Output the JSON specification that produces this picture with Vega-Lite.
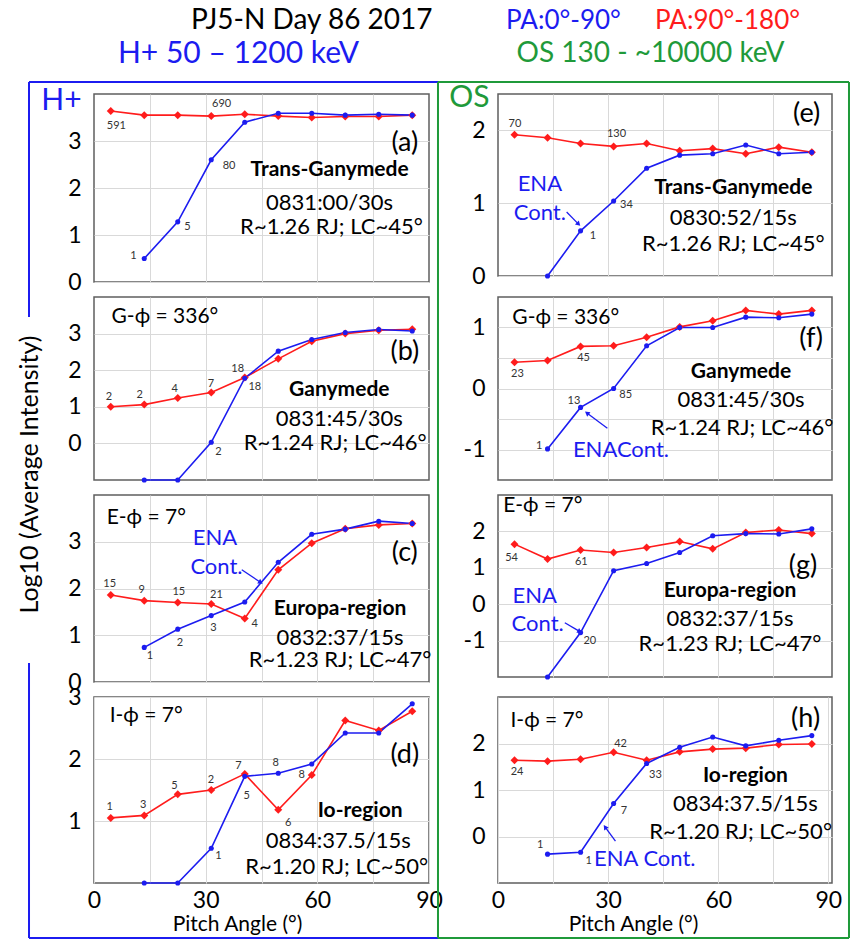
{
"$schema": "https://vega.github.io/schema/vega-lite/v6.json",
"padding": {"left": 16, "top": 8, "right": 2, "bottom": 1},
"background": "white",
"config": {
  "font": "Lato",
  "view": {"stroke": "#5f5f5f", "strokeWidth": 1.5},
  "axis": {"grid": true, "gridColor": "#d9d9d9", "gridWidth": 1, "ticks": false, "domain": false, "labelFontSize": 23, "labelColor": "#000", "labelFont": "Lato", "titleFont": "Lato", "titleColor": "#000", "titleFontWeight": "normal"},
  "axisY": {"labelPadding": 13},
  "axisX": {"labelPadding": 6, "labelFlush": false},
  "text": {"font": "Lato"}
},
"datasets": {
  "curves": [
    {"p":"a","pa":"PA:90°-180°","ang":4.5,"v":3.64},{"p":"a","pa":"PA:90°-180°","ang":13.5,"v":3.55},{"p":"a","pa":"PA:90°-180°","ang":22.5,"v":3.55},{"p":"a","pa":"PA:90°-180°","ang":31.5,"v":3.53},{"p":"a","pa":"PA:90°-180°","ang":40.5,"v":3.57},{"p":"a","pa":"PA:90°-180°","ang":49.5,"v":3.53},{"p":"a","pa":"PA:90°-180°","ang":58.5,"v":3.50},{"p":"a","pa":"PA:90°-180°","ang":67.5,"v":3.52},{"p":"a","pa":"PA:90°-180°","ang":76.5,"v":3.52},{"p":"a","pa":"PA:90°-180°","ang":85.5,"v":3.55},
    {"p":"a","pa":"PA:0°-90°","ang":13.5,"v":0.50},{"p":"a","pa":"PA:0°-90°","ang":22.5,"v":1.28},{"p":"a","pa":"PA:0°-90°","ang":31.5,"v":2.60},{"p":"a","pa":"PA:0°-90°","ang":40.5,"v":3.40},{"p":"a","pa":"PA:0°-90°","ang":49.5,"v":3.59},{"p":"a","pa":"PA:0°-90°","ang":58.5,"v":3.59},{"p":"a","pa":"PA:0°-90°","ang":67.5,"v":3.55},{"p":"a","pa":"PA:0°-90°","ang":76.5,"v":3.57},{"p":"a","pa":"PA:0°-90°","ang":85.5,"v":3.55},
    {"p":"b","pa":"PA:90°-180°","ang":4.5,"v":1.00},{"p":"b","pa":"PA:90°-180°","ang":13.5,"v":1.06},{"p":"b","pa":"PA:90°-180°","ang":22.5,"v":1.24},{"p":"b","pa":"PA:90°-180°","ang":31.5,"v":1.39},{"p":"b","pa":"PA:90°-180°","ang":40.5,"v":1.80},{"p":"b","pa":"PA:90°-180°","ang":49.5,"v":2.31},{"p":"b","pa":"PA:90°-180°","ang":58.5,"v":2.79},{"p":"b","pa":"PA:90°-180°","ang":67.5,"v":3.00},{"p":"b","pa":"PA:90°-180°","ang":76.5,"v":3.09},{"p":"b","pa":"PA:90°-180°","ang":85.5,"v":3.12},
    {"p":"b","pa":"PA:0°-90°","ang":13.5,"v":-1},{"p":"b","pa":"PA:0°-90°","ang":22.5,"v":-1},{"p":"b","pa":"PA:0°-90°","ang":31.5,"v":0.03},{"p":"b","pa":"PA:0°-90°","ang":40.5,"v":1.78},{"p":"b","pa":"PA:0°-90°","ang":49.5,"v":2.52},{"p":"b","pa":"PA:0°-90°","ang":58.5,"v":2.84},{"p":"b","pa":"PA:0°-90°","ang":67.5,"v":3.03},{"p":"b","pa":"PA:0°-90°","ang":76.5,"v":3.11},{"p":"b","pa":"PA:0°-90°","ang":85.5,"v":3.07},
    {"p":"c","pa":"PA:90°-180°","ang":4.5,"v":1.86},{"p":"c","pa":"PA:90°-180°","ang":13.5,"v":1.74},{"p":"c","pa":"PA:90°-180°","ang":22.5,"v":1.70},{"p":"c","pa":"PA:90°-180°","ang":31.5,"v":1.67},{"p":"c","pa":"PA:90°-180°","ang":40.5,"v":1.36},{"p":"c","pa":"PA:90°-180°","ang":49.5,"v":2.40},{"p":"c","pa":"PA:90°-180°","ang":58.5,"v":2.97},{"p":"c","pa":"PA:90°-180°","ang":67.5,"v":3.28},{"p":"c","pa":"PA:90°-180°","ang":76.5,"v":3.36},{"p":"c","pa":"PA:90°-180°","ang":85.5,"v":3.39},
    {"p":"c","pa":"PA:0°-90°","ang":13.5,"v":0.74},{"p":"c","pa":"PA:0°-90°","ang":22.5,"v":1.13},{"p":"c","pa":"PA:0°-90°","ang":31.5,"v":1.42},{"p":"c","pa":"PA:0°-90°","ang":40.5,"v":1.71},{"p":"c","pa":"PA:0°-90°","ang":49.5,"v":2.56},{"p":"c","pa":"PA:0°-90°","ang":58.5,"v":3.16},{"p":"c","pa":"PA:0°-90°","ang":67.5,"v":3.27},{"p":"c","pa":"PA:0°-90°","ang":76.5,"v":3.44},{"p":"c","pa":"PA:0°-90°","ang":85.5,"v":3.39},
    {"p":"d","pa":"PA:90°-180°","ang":4.5,"v":1.05},{"p":"d","pa":"PA:90°-180°","ang":13.5,"v":1.09},{"p":"d","pa":"PA:90°-180°","ang":22.5,"v":1.43},{"p":"d","pa":"PA:90°-180°","ang":31.5,"v":1.50},{"p":"d","pa":"PA:90°-180°","ang":40.5,"v":1.76},{"p":"d","pa":"PA:90°-180°","ang":49.5,"v":1.18},{"p":"d","pa":"PA:90°-180°","ang":58.5,"v":1.74},{"p":"d","pa":"PA:90°-180°","ang":67.5,"v":2.62},{"p":"d","pa":"PA:90°-180°","ang":76.5,"v":2.46},{"p":"d","pa":"PA:90°-180°","ang":85.5,"v":2.77},
    {"p":"d","pa":"PA:0°-90°","ang":13.5,"v":0},{"p":"d","pa":"PA:0°-90°","ang":22.5,"v":0},{"p":"d","pa":"PA:0°-90°","ang":31.5,"v":0.56},{"p":"d","pa":"PA:0°-90°","ang":40.5,"v":1.72},{"p":"d","pa":"PA:0°-90°","ang":49.5,"v":1.77},{"p":"d","pa":"PA:0°-90°","ang":58.5,"v":1.92},{"p":"d","pa":"PA:0°-90°","ang":67.5,"v":2.42},{"p":"d","pa":"PA:0°-90°","ang":76.5,"v":2.42},{"p":"d","pa":"PA:0°-90°","ang":85.5,"v":2.89},
    {"p":"e","pa":"PA:90°-180°","ang":4.5,"v":1.94},{"p":"e","pa":"PA:90°-180°","ang":13.5,"v":1.90},{"p":"e","pa":"PA:90°-180°","ang":22.5,"v":1.82},{"p":"e","pa":"PA:90°-180°","ang":31.5,"v":1.78},{"p":"e","pa":"PA:90°-180°","ang":40.5,"v":1.82},{"p":"e","pa":"PA:90°-180°","ang":49.5,"v":1.72},{"p":"e","pa":"PA:90°-180°","ang":58.5,"v":1.75},{"p":"e","pa":"PA:90°-180°","ang":67.5,"v":1.68},{"p":"e","pa":"PA:90°-180°","ang":76.5,"v":1.77},{"p":"e","pa":"PA:90°-180°","ang":85.5,"v":1.70},
    {"p":"e","pa":"PA:0°-90°","ang":13.5,"v":0},{"p":"e","pa":"PA:0°-90°","ang":22.5,"v":0.62},{"p":"e","pa":"PA:0°-90°","ang":31.5,"v":1.03},{"p":"e","pa":"PA:0°-90°","ang":40.5,"v":1.48},{"p":"e","pa":"PA:0°-90°","ang":49.5,"v":1.66},{"p":"e","pa":"PA:0°-90°","ang":58.5,"v":1.68},{"p":"e","pa":"PA:0°-90°","ang":67.5,"v":1.80},{"p":"e","pa":"PA:0°-90°","ang":76.5,"v":1.68},{"p":"e","pa":"PA:0°-90°","ang":85.5,"v":1.70},
    {"p":"f","pa":"PA:90°-180°","ang":4.5,"v":0.43},{"p":"f","pa":"PA:90°-180°","ang":13.5,"v":0.46},{"p":"f","pa":"PA:90°-180°","ang":22.5,"v":0.69},{"p":"f","pa":"PA:90°-180°","ang":31.5,"v":0.70},{"p":"f","pa":"PA:90°-180°","ang":40.5,"v":0.84},{"p":"f","pa":"PA:90°-180°","ang":49.5,"v":1.01},{"p":"f","pa":"PA:90°-180°","ang":58.5,"v":1.11},{"p":"f","pa":"PA:90°-180°","ang":67.5,"v":1.28},{"p":"f","pa":"PA:90°-180°","ang":76.5,"v":1.22},{"p":"f","pa":"PA:90°-180°","ang":85.5,"v":1.28},
    {"p":"f","pa":"PA:0°-90°","ang":13.5,"v":-0.99},{"p":"f","pa":"PA:0°-90°","ang":22.5,"v":-0.31},{"p":"f","pa":"PA:0°-90°","ang":31.5,"v":0.0},{"p":"f","pa":"PA:0°-90°","ang":40.5,"v":0.70},{"p":"f","pa":"PA:0°-90°","ang":49.5,"v":1.0},{"p":"f","pa":"PA:0°-90°","ang":58.5,"v":1.0},{"p":"f","pa":"PA:0°-90°","ang":67.5,"v":1.17},{"p":"f","pa":"PA:0°-90°","ang":76.5,"v":1.16},{"p":"f","pa":"PA:0°-90°","ang":85.5,"v":1.22},
    {"p":"g","pa":"PA:90°-180°","ang":4.5,"v":1.65},{"p":"g","pa":"PA:90°-180°","ang":13.5,"v":1.24},{"p":"g","pa":"PA:90°-180°","ang":22.5,"v":1.49},{"p":"g","pa":"PA:90°-180°","ang":31.5,"v":1.42},{"p":"g","pa":"PA:90°-180°","ang":40.5,"v":1.56},{"p":"g","pa":"PA:90°-180°","ang":49.5,"v":1.72},{"p":"g","pa":"PA:90°-180°","ang":58.5,"v":1.52},{"p":"g","pa":"PA:90°-180°","ang":67.5,"v":1.97},{"p":"g","pa":"PA:90°-180°","ang":76.5,"v":2.04},{"p":"g","pa":"PA:90°-180°","ang":85.5,"v":1.94},
    {"p":"g","pa":"PA:0°-90°","ang":13.5,"v":-2.0},{"p":"g","pa":"PA:0°-90°","ang":22.5,"v":-0.78},{"p":"g","pa":"PA:0°-90°","ang":31.5,"v":0.92},{"p":"g","pa":"PA:0°-90°","ang":40.5,"v":1.12},{"p":"g","pa":"PA:0°-90°","ang":49.5,"v":1.42},{"p":"g","pa":"PA:0°-90°","ang":58.5,"v":1.88},{"p":"g","pa":"PA:0°-90°","ang":67.5,"v":1.94},{"p":"g","pa":"PA:0°-90°","ang":76.5,"v":1.93},{"p":"g","pa":"PA:0°-90°","ang":85.5,"v":2.07},
    {"p":"h","pa":"PA:90°-180°","ang":4.5,"v":1.64},{"p":"h","pa":"PA:90°-180°","ang":13.5,"v":1.62},{"p":"h","pa":"PA:90°-180°","ang":22.5,"v":1.66},{"p":"h","pa":"PA:90°-180°","ang":31.5,"v":1.81},{"p":"h","pa":"PA:90°-180°","ang":40.5,"v":1.64},{"p":"h","pa":"PA:90°-180°","ang":49.5,"v":1.82},{"p":"h","pa":"PA:90°-180°","ang":58.5,"v":1.88},{"p":"h","pa":"PA:90°-180°","ang":67.5,"v":1.90},{"p":"h","pa":"PA:90°-180°","ang":76.5,"v":1.98},{"p":"h","pa":"PA:90°-180°","ang":85.5,"v":1.99},
    {"p":"h","pa":"PA:0°-90°","ang":13.5,"v":-0.38},{"p":"h","pa":"PA:0°-90°","ang":22.5,"v":-0.34},{"p":"h","pa":"PA:0°-90°","ang":31.5,"v":0.71},{"p":"h","pa":"PA:0°-90°","ang":40.5,"v":1.57},{"p":"h","pa":"PA:0°-90°","ang":49.5,"v":1.92},{"p":"h","pa":"PA:0°-90°","ang":58.5,"v":2.14},{"p":"h","pa":"PA:0°-90°","ang":67.5,"v":1.95},{"p":"h","pa":"PA:0°-90°","ang":76.5,"v":2.07},{"p":"h","pa":"PA:0°-90°","ang":85.5,"v":2.17}
  ],
  "counts": [
    {"p":"a","ang":6.0,"v":3.32,"t":"591"},{"p":"a","ang":34.3,"v":3.79,"t":"690"},{"p":"a","ang":10.6,"v":0.55,"t":"1"},{"p":"a","ang":25.1,"v":1.17,"t":"5"},{"p":"a","ang":36.3,"v":2.47,"t":"80"},
    {"p":"b","ang":4.0,"v":1.27,"t":"2"},{"p":"b","ang":12.3,"v":1.32,"t":"2"},{"p":"b","ang":21.7,"v":1.49,"t":"4"},{"p":"b","ang":31.4,"v":1.63,"t":"7"},{"p":"b","ang":38.6,"v":2.04,"t":"18"},{"p":"b","ang":43.2,"v":1.54,"t":"18"},{"p":"b","ang":33.4,"v":-0.24,"t":"2"},
    {"p":"c","ang":4.2,"v":2.09,"t":"15"},{"p":"c","ang":12.8,"v":1.97,"t":"9"},{"p":"c","ang":22.8,"v":1.93,"t":"15"},{"p":"c","ang":32.9,"v":1.86,"t":"21"},{"p":"c","ang":43.2,"v":1.23,"t":"4"},{"p":"c","ang":15.0,"v":0.56,"t":"1"},{"p":"c","ang":23.1,"v":0.84,"t":"2"},{"p":"c","ang":32.1,"v":1.16,"t":"3"},
    {"p":"d","ang":4.2,"v":1.23,"t":"1"},{"p":"d","ang":13.2,"v":1.26,"t":"3"},{"p":"d","ang":21.6,"v":1.57,"t":"5"},{"p":"d","ang":31.4,"v":1.66,"t":"2"},{"p":"d","ang":38.8,"v":1.88,"t":"7"},{"p":"d","ang":52.2,"v":0.97,"t":"6"},{"p":"d","ang":55.8,"v":1.74,"t":"8"},{"p":"d","ang":33.4,"v":0.44,"t":"1"},{"p":"d","ang":41.0,"v":1.40,"t":"5"},{"p":"d","ang":48.8,"v":1.94,"t":"8"},
    {"p":"e","ang":4.6,"v":2.09,"t":"70"},{"p":"e","ang":32.3,"v":1.95,"t":"130"},{"p":"e","ang":25.9,"v":0.55,"t":"1"},{"p":"e","ang":35.0,"v":0.98,"t":"34"},
    {"p":"f","ang":5.3,"v":0.23,"t":"23"},{"p":"f","ang":23.3,"v":0.50,"t":"45"},{"p":"f","ang":20.7,"v":-0.20,"t":"13"},{"p":"f","ang":34.8,"v":-0.11,"t":"85"},{"p":"f","ang":11.2,"v":-0.94,"t":"1"},
    {"p":"g","ang":3.7,"v":1.27,"t":"54"},{"p":"g","ang":22.7,"v":1.15,"t":"61"},{"p":"g","ang":25.0,"v":-1.01,"t":"20"},
    {"p":"h","ang":5.2,"v":1.38,"t":"24"},{"p":"h","ang":33.4,"v":1.98,"t":"42"},{"p":"h","ang":42.9,"v":1.33,"t":"33"},{"p":"h","ang":34.3,"v":0.55,"t":"7"},{"p":"h","ang":11.5,"v":-0.19,"t":"1"},{"p":"h","ang":24.7,"v":-0.52,"t":"1"}
  ],
  "notes": [
    {"p":"a","role":"tag","ang":83.5,"v":2.96,"t":"(a)"},{"p":"a","role":"reg","ang":63.3,"v":2.38,"t":"Trans-Ganymede"},{"p":"a","role":"info","ang":63.3,"v":1.68,"t":"0831:00/30s"},{"p":"a","role":"info","ang":63.8,"v":1.17,"t":"R~1.26 RJ; LC~45°"},
    {"p":"b","role":"phi","ang":4.7,"v":3.45,"t":"G-ϕ = 336°"},{"p":"b","role":"tag","ang":83.5,"v":2.50,"t":"(b)"},{"p":"b","role":"reg","ang":65.9,"v":1.47,"t":"Ganymede"},{"p":"b","role":"info","ang":65.9,"v":0.66,"t":"0831:45/30s"},{"p":"b","role":"info","ang":64.8,"v":0.01,"t":"R~1.24 RJ; LC~46°"},
    {"p":"c","role":"phi","ang":3.4,"v":3.51,"t":"E-ϕ = 7°"},{"p":"c","role":"ena","ang":32.5,"v":3.09,"t":"ENA"},{"p":"c","role":"ena","ang":32.9,"v":2.46,"t":"Cont."},{"p":"c","role":"tag","ang":83.5,"v":2.77,"t":"(c)"},{"p":"c","role":"reg","ang":66.1,"v":1.57,"t":"Europa-region"},{"p":"c","role":"info","ang":66.1,"v":0.95,"t":"0832:37/15s"},{"p":"c","role":"info","ang":66.1,"v":0.46,"t":"R~1.23 RJ; LC~47°"},
    {"p":"d","role":"phi","ang":4.2,"v":2.70,"t":"I-ϕ = 7°"},{"p":"d","role":"tag","ang":83.5,"v":2.07,"t":"(d)"},{"p":"d","role":"reg","ang":71.5,"v":1.16,"t":"Io-region"},{"p":"d","role":"info","ang":65.6,"v":0.67,"t":"0834:37.5/15s"},{"p":"d","role":"info","ang":65.2,"v":0.26,"t":"R~1.20 RJ; LC~50°"},
    {"p":"e","role":"tag","ang":84.1,"v":2.23,"t":"(e)"},{"p":"e","role":"ena","ang":11.4,"v":1.26,"t":"ENA"},{"p":"e","role":"ena","ang":11.4,"v":0.86,"t":"Cont."},{"p":"e","role":"reg","ang":64.1,"v":1.21,"t":"Trans-Ganymede"},{"p":"e","role":"info","ang":64.1,"v":0.79,"t":"0830:52/15s"},{"p":"e","role":"info","ang":64.1,"v":0.44,"t":"R~1.26 RJ; LC~45°"},
    {"p":"f","role":"phi","ang":3.9,"v":1.16,"t":"G-ϕ = 336°"},{"p":"f","role":"tag","ang":85.3,"v":0.81,"t":"(f)"},{"p":"f","role":"reg","ang":66.2,"v":0.27,"t":"Ganymede"},{"p":"f","role":"info","ang":66.2,"v":-0.19,"t":"0831:45/30s"},{"p":"f","role":"info","ang":66.5,"v":-0.65,"t":"R~1.24 RJ; LC~46°"},{"p":"f","role":"ena","ang":33.5,"v":-1.0,"t":"ENACont."},
    {"p":"g","role":"phi","ang":1.4,"v":2.71,"t":"E-ϕ = 7°"},{"p":"g","role":"tag","ang":83.1,"v":1.06,"t":"(g)"},{"p":"g","role":"ena","ang":10.0,"v":0.23,"t":"ENA"},{"p":"g","role":"ena","ang":10.8,"v":-0.55,"t":"Cont."},{"p":"g","role":"reg","ang":63.2,"v":0.37,"t":"Europa-region"},{"p":"g","role":"info","ang":63.2,"v":-0.41,"t":"0832:37/15s"},{"p":"g","role":"info","ang":63.2,"v":-1.10,"t":"R~1.23 RJ; LC~47°"},
    {"p":"h","role":"phi","ang":3.4,"v":2.48,"t":"I-ϕ = 7°"},{"p":"h","role":"tag","ang":83.8,"v":2.52,"t":"(h)"},{"p":"h","role":"reg","ang":67.4,"v":1.31,"t":"Io-region"},{"p":"h","role":"info","ang":67.4,"v":0.69,"t":"0834:37.5/15s"},{"p":"h","role":"info","ang":66.1,"v":0.10,"t":"R~1.20 RJ; LC~50°"},{"p":"h","role":"ena","ang":40.0,"v":-0.48,"t":"ENA Cont."}
  ],
  "arrows": [
    {"p":"c","ang":39.7,"v":2.40,"ang2":44.6,"v2":2.14},
    {"p":"e","ang":18.7,"v":0.88,"ang2":21.8,"v2":0.72},
    {"p":"f","ang":29.8,"v":-0.65,"ang2":24.4,"v2":-0.41},
    {"p":"g","ang":18.2,"v":-0.51,"ang2":22.1,"v2":-0.74},
    {"p":"h","ang":32.0,"v":-0.10,"ang2":29.3,"v2":0.19}
  ],
  "frames": [
    {"p":"a","ang":-17.46,"v":4.255,"ang2":92.42,"v2":4.255},
    {"p":"a","ang":-17.46,"v":4.255,"ang2":-17.46,"v2":-0.745},
    {"p":"d","ang":-17.46,"v":3.548,"ang2":-17.46,"v2":-0.887},
    {"p":"d","ang":-17.46,"v":-0.887,"ang2":92.42,"v2":-0.887},
    {"p":"h","ang":-16.35,"v":16.226,"ang2":-16.35,"v2":-2.183},
    {"p":"h","ang":95.63,"v":16.226,"ang2":95.63,"v2":-2.183},
    {"p":"h","ang":-16.35,"v":-2.183,"ang2":95.63,"v2":-2.183},
    {"p":"h","ang":-16.35,"v":16.226,"ang2":95.63,"v2":16.226}
  ]
},
"bounds": "flush",
"columns": 2,
"spacing": {"row": 15, "column": 69},
"resolve": {"scale": {"x": "independent", "y": "independent", "color": "shared", "shape": "shared", "size": "shared"}, "legend": {"color": "shared"}},
"concat": [
  {
    "width": 335, "height": 188,
    "encoding": {
      "x": {"field":"ang","type":"quantitative","scale":{"domain":[0,90],"nice":false,"zero":false},"axis":{"orient":"top","values":[15,30,45,60,75],"labels":false,"title":"H+ 50 – 1200 keV","titleColor":"#1c1cf0","titleFontSize":30,"titleX":144,"titleY":-41,"titleAlign":"center","titleBaseline":"middle","titleAngle":0}},
      "y": {"field":"v","type":"quantitative","scale":{"domain":[0,4],"nice":false,"zero":false},"axis":{"values":[0,1,2,3],"title":"H+","titleColor":"#1c1cf0","titleFontSize":30,"titleAngle":0,"titleX":-33,"titleY":6,"titleAlign":"center","titleBaseline":"middle"}}
    },
    "layer": [
      {"data":{"name":"curves"},"transform":[{"filter":"datum.p==='a'"}],"mark":{"type":"line","strokeWidth":1.6},"encoding":{"color":{"field":"pa","type":"nominal","scale":{"domain":["PA:0°-90°","PA:90°-180°"],"range":["#1c1cf0","#ff1c1c"]},"legend":{"orient":"none","legendX":97,"legendY":-86,"direction":"horizontal","gridAlign":"none","title":"PJ5-N Day 86 2017","titleOrient":"left","titleFontSize":28,"titleFontWeight":"normal","titleColor":"#000","titleLimit":500,"titlePadding":46,"labelFontSize":26,"labelLimit":400,"symbolSize":0,"symbolOpacity":0,"symbolStrokeWidth":0,"labelOffset":0,"columnPadding":8,"encode":{"labels":{"update":{"fill":{"signal":"datum.value === 'PA:0°-90°' ? '#1c1cf0' : '#ff1c1c'"}}}}}}}},
      {"data":{"name":"curves"},"transform":[{"filter":"datum.p==='a'"}],"mark":{"type":"point","filled":true,"opacity":1},"encoding":{"color":{"field":"pa","type":"nominal","scale":{"domain":["PA:0°-90°","PA:90°-180°"],"range":["#1c1cf0","#ff1c1c"]}},"shape":{"field":"pa","type":"nominal","scale":{"domain":["PA:0°-90°","PA:90°-180°"],"range":["circle","diamond"]},"legend":null},"size":{"field":"pa","type":"ordinal","scale":{"domain":["PA:0°-90°","PA:90°-180°"],"range":[26,64]},"legend":null}}},
      {"data":{"name":"counts"},"transform":[{"filter":"datum.p==='a'"}],"mark":{"type":"text","fontSize":11,"color":"#333333"},"encoding":{"text":{"field":"t","type":"nominal"}}},
      {"data":{"name":"notes"},"transform":[{"filter":"datum.p==='a' && datum.role==='tag'"}],"mark":{"type":"text","fontSize":27},"encoding":{"text":{"field":"t","type":"nominal"}}},
      {"data":{"name":"notes"},"transform":[{"filter":"datum.p==='a' && datum.role==='reg'"}],"mark":{"type":"text","fontSize":21,"fontWeight":"bold"},"encoding":{"text":{"field":"t","type":"nominal"}}},
      {"data":{"name":"notes"},"transform":[{"filter":"datum.p==='a' && datum.role==='info'"}],"mark":{"type":"text","fontSize":22},"encoding":{"text":{"field":"t","type":"nominal"}}},
      {"data":{"name":"frames"},"transform":[{"filter":"datum.p==='a'"}],"mark":{"type":"rule","color":"#1c1cf0","strokeWidth":2,"clip":false},"encoding":{"x2":{"field":"ang2"},"y2":{"field":"v2"}}}
    ]
  },
  {
    "width": 334, "height": 182,
    "encoding": {
      "x": {"field":"ang","type":"quantitative","scale":{"domain":[0,91],"nice":false,"zero":false},"axis":{"orient":"top","values":[15,30,45,60,75],"labels":false,"title":"OS 130 - ~10000 keV","titleColor":"#1f9a3a","titleFontSize":28,"titleX":152,"titleY":-41,"titleAlign":"center","titleBaseline":"middle","titleAngle":0}},
      "y": {"field":"v","type":"quantitative","scale":{"domain":[0,2.5],"nice":false,"zero":false},"axis":{"values":[0,1,2],"title":"OS","titleColor":"#1f9a3a","titleFontSize":30,"titleAngle":0,"titleX":-29,"titleY":3,"titleAlign":"center","titleBaseline":"middle"}}
    },
    "layer": [
      {"data":{"name":"curves"},"transform":[{"filter":"datum.p==='e'"}],"mark":{"type":"line","strokeWidth":1.6},"encoding":{"color":{"field":"pa","type":"nominal","scale":{"domain":["PA:0°-90°","PA:90°-180°"],"range":["#1c1cf0","#ff1c1c"]}}}},
      {"data":{"name":"curves"},"transform":[{"filter":"datum.p==='e'"}],"mark":{"type":"point","filled":true,"opacity":1},"encoding":{"color":{"field":"pa","type":"nominal","scale":{"domain":["PA:0°-90°","PA:90°-180°"],"range":["#1c1cf0","#ff1c1c"]}},"shape":{"field":"pa","type":"nominal","scale":{"domain":["PA:0°-90°","PA:90°-180°"],"range":["circle","diamond"]},"legend":null},"size":{"field":"pa","type":"ordinal","scale":{"domain":["PA:0°-90°","PA:90°-180°"],"range":[26,64]},"legend":null}}},
      {"data":{"name":"counts"},"transform":[{"filter":"datum.p==='e'"}],"mark":{"type":"text","fontSize":11,"color":"#333333"},"encoding":{"text":{"field":"t","type":"nominal"}}},
      {"data":{"name":"notes"},"transform":[{"filter":"datum.p==='e' && datum.role==='tag'"}],"mark":{"type":"text","fontSize":27},"encoding":{"text":{"field":"t","type":"nominal"}}},
      {"data":{"name":"notes"},"transform":[{"filter":"datum.p==='e' && datum.role==='reg'"}],"mark":{"type":"text","fontSize":21,"fontWeight":"bold"},"encoding":{"text":{"field":"t","type":"nominal"}}},
      {"data":{"name":"notes"},"transform":[{"filter":"datum.p==='e' && datum.role==='info'"}],"mark":{"type":"text","fontSize":22},"encoding":{"text":{"field":"t","type":"nominal"}}},
      {"data":{"name":"notes"},"transform":[{"filter":"datum.p==='e' && datum.role==='ena'"}],"mark":{"type":"text","fontSize":22,"color":"#1c1cf0"},"encoding":{"text":{"field":"t","type":"nominal"}}},
      {"data":{"name":"arrows"},"transform":[{"filter":"datum.p==='e'"}],"mark":{"type":"rule","color":"#1c1cf0","strokeWidth":1.3},"encoding":{"x2":{"field":"ang2"},"y2":{"field":"v2"}}},
      {"data":{"name":"arrows"},"transform":[{"filter":"datum.p==='e'"}],"mark":{"type":"point","shape":"triangle","filled":true,"color":"#1c1cf0","size":30,"angle":135,"opacity":1},"encoding":{"x":{"field":"ang2","type":"quantitative"},"y":{"field":"v2","type":"quantitative"}}}
    ]
  },
  {
    "width": 335, "height": 183,
    "encoding": {
      "x": {"field":"ang","type":"quantitative","scale":{"domain":[0,90],"nice":false,"zero":false},"axis":{"values":[15,30,45,60,75],"labels":false,"title":null}},
      "y": {"field":"v","type":"quantitative","scale":{"domain":[-1,4],"nice":false,"zero":false},"axis":{"values":[0,1,2,3],"title":"Log10 (Average Intensity)","titleFontSize":25,"titleAngle":270,"titleX":-65,"titleY":177,"titleAlign":"center","titleBaseline":"middle"}}
    },
    "layer": [
      {"data":{"name":"curves"},"transform":[{"filter":"datum.p==='b'"}],"mark":{"type":"line","strokeWidth":1.6},"encoding":{"color":{"field":"pa","type":"nominal","scale":{"domain":["PA:0°-90°","PA:90°-180°"],"range":["#1c1cf0","#ff1c1c"]}}}},
      {"data":{"name":"curves"},"transform":[{"filter":"datum.p==='b'"}],"mark":{"type":"point","filled":true,"opacity":1},"encoding":{"color":{"field":"pa","type":"nominal","scale":{"domain":["PA:0°-90°","PA:90°-180°"],"range":["#1c1cf0","#ff1c1c"]}},"shape":{"field":"pa","type":"nominal","scale":{"domain":["PA:0°-90°","PA:90°-180°"],"range":["circle","diamond"]},"legend":null},"size":{"field":"pa","type":"ordinal","scale":{"domain":["PA:0°-90°","PA:90°-180°"],"range":[26,64]},"legend":null}}},
      {"data":{"name":"counts"},"transform":[{"filter":"datum.p==='b'"}],"mark":{"type":"text","fontSize":11,"color":"#333333"},"encoding":{"text":{"field":"t","type":"nominal"}}},
      {"data":{"name":"notes"},"transform":[{"filter":"datum.p==='b' && datum.role==='tag'"}],"mark":{"type":"text","fontSize":27},"encoding":{"text":{"field":"t","type":"nominal"}}},
      {"data":{"name":"notes"},"transform":[{"filter":"datum.p==='b' && datum.role==='reg'"}],"mark":{"type":"text","fontSize":21,"fontWeight":"bold"},"encoding":{"text":{"field":"t","type":"nominal"}}},
      {"data":{"name":"notes"},"transform":[{"filter":"datum.p==='b' && datum.role==='info'"}],"mark":{"type":"text","fontSize":22},"encoding":{"text":{"field":"t","type":"nominal"}}},
      {"data":{"name":"notes"},"transform":[{"filter":"datum.p==='b' && datum.role==='phi'"}],"mark":{"type":"text","fontSize":21,"align":"left"},"encoding":{"text":{"field":"t","type":"nominal"}}}
    ]
  },
  {
    "width": 334, "height": 183,
    "encoding": {
      "x": {"field":"ang","type":"quantitative","scale":{"domain":[0,91],"nice":false,"zero":false},"axis":{"values":[15,30,45,60,75],"labels":false,"title":null}},
      "y": {"field":"v","type":"quantitative","scale":{"domain":[-1.5,1.5],"nice":false,"zero":false},"axis":{"values":[-1,-0.5,0,0.5,1],"labelExpr":"datum.value % 1 === 0 ? (datum.value < 0 ? '-' + abs(datum.value) : '' + datum.value) : ''","title":null}}
    },
    "layer": [
      {"data":{"name":"curves"},"transform":[{"filter":"datum.p==='f'"}],"mark":{"type":"line","strokeWidth":1.6},"encoding":{"color":{"field":"pa","type":"nominal","scale":{"domain":["PA:0°-90°","PA:90°-180°"],"range":["#1c1cf0","#ff1c1c"]}}}},
      {"data":{"name":"curves"},"transform":[{"filter":"datum.p==='f'"}],"mark":{"type":"point","filled":true,"opacity":1},"encoding":{"color":{"field":"pa","type":"nominal","scale":{"domain":["PA:0°-90°","PA:90°-180°"],"range":["#1c1cf0","#ff1c1c"]}},"shape":{"field":"pa","type":"nominal","scale":{"domain":["PA:0°-90°","PA:90°-180°"],"range":["circle","diamond"]},"legend":null},"size":{"field":"pa","type":"ordinal","scale":{"domain":["PA:0°-90°","PA:90°-180°"],"range":[26,64]},"legend":null}}},
      {"data":{"name":"counts"},"transform":[{"filter":"datum.p==='f'"}],"mark":{"type":"text","fontSize":11,"color":"#333333"},"encoding":{"text":{"field":"t","type":"nominal"}}},
      {"data":{"name":"notes"},"transform":[{"filter":"datum.p==='f' && datum.role==='tag'"}],"mark":{"type":"text","fontSize":27},"encoding":{"text":{"field":"t","type":"nominal"}}},
      {"data":{"name":"notes"},"transform":[{"filter":"datum.p==='f' && datum.role==='reg'"}],"mark":{"type":"text","fontSize":21,"fontWeight":"bold"},"encoding":{"text":{"field":"t","type":"nominal"}}},
      {"data":{"name":"notes"},"transform":[{"filter":"datum.p==='f' && datum.role==='info'"}],"mark":{"type":"text","fontSize":22},"encoding":{"text":{"field":"t","type":"nominal"}}},
      {"data":{"name":"notes"},"transform":[{"filter":"datum.p==='f' && datum.role==='phi'"}],"mark":{"type":"text","fontSize":21,"align":"left"},"encoding":{"text":{"field":"t","type":"nominal"}}},
      {"data":{"name":"notes"},"transform":[{"filter":"datum.p==='f' && datum.role==='ena'"}],"mark":{"type":"text","fontSize":22,"color":"#1c1cf0"},"encoding":{"text":{"field":"t","type":"nominal"}}},
      {"data":{"name":"arrows"},"transform":[{"filter":"datum.p==='f'"}],"mark":{"type":"rule","color":"#1c1cf0","strokeWidth":1.3},"encoding":{"x2":{"field":"ang2"},"y2":{"field":"v2"}}},
      {"data":{"name":"arrows"},"transform":[{"filter":"datum.p==='f'"}],"mark":{"type":"point","shape":"triangle","filled":true,"color":"#1c1cf0","size":30,"angle":307,"opacity":1},"encoding":{"x":{"field":"ang2","type":"quantitative"},"y":{"field":"v2","type":"quantitative"}}}
    ]
  },
  {
    "width": 335, "height": 187,
    "encoding": {
      "x": {"field":"ang","type":"quantitative","scale":{"domain":[0,90],"nice":false,"zero":false},"axis":{"values":[15,30,45,60,75],"labels":false,"title":null}},
      "y": {"field":"v","type":"quantitative","scale":{"domain":[0,4],"nice":false,"zero":false},"axis":{"values":[0,1,2,3],"title":null}}
    },
    "layer": [
      {"data":{"name":"curves"},"transform":[{"filter":"datum.p==='c'"}],"mark":{"type":"line","strokeWidth":1.6},"encoding":{"color":{"field":"pa","type":"nominal","scale":{"domain":["PA:0°-90°","PA:90°-180°"],"range":["#1c1cf0","#ff1c1c"]}}}},
      {"data":{"name":"curves"},"transform":[{"filter":"datum.p==='c'"}],"mark":{"type":"point","filled":true,"opacity":1},"encoding":{"color":{"field":"pa","type":"nominal","scale":{"domain":["PA:0°-90°","PA:90°-180°"],"range":["#1c1cf0","#ff1c1c"]}},"shape":{"field":"pa","type":"nominal","scale":{"domain":["PA:0°-90°","PA:90°-180°"],"range":["circle","diamond"]},"legend":null},"size":{"field":"pa","type":"ordinal","scale":{"domain":["PA:0°-90°","PA:90°-180°"],"range":[26,64]},"legend":null}}},
      {"data":{"name":"counts"},"transform":[{"filter":"datum.p==='c'"}],"mark":{"type":"text","fontSize":11,"color":"#333333"},"encoding":{"text":{"field":"t","type":"nominal"}}},
      {"data":{"name":"notes"},"transform":[{"filter":"datum.p==='c' && datum.role==='tag'"}],"mark":{"type":"text","fontSize":27},"encoding":{"text":{"field":"t","type":"nominal"}}},
      {"data":{"name":"notes"},"transform":[{"filter":"datum.p==='c' && datum.role==='reg'"}],"mark":{"type":"text","fontSize":21,"fontWeight":"bold"},"encoding":{"text":{"field":"t","type":"nominal"}}},
      {"data":{"name":"notes"},"transform":[{"filter":"datum.p==='c' && datum.role==='info'"}],"mark":{"type":"text","fontSize":22},"encoding":{"text":{"field":"t","type":"nominal"}}},
      {"data":{"name":"notes"},"transform":[{"filter":"datum.p==='c' && datum.role==='phi'"}],"mark":{"type":"text","fontSize":21,"align":"left"},"encoding":{"text":{"field":"t","type":"nominal"}}},
      {"data":{"name":"notes"},"transform":[{"filter":"datum.p==='c' && datum.role==='ena'"}],"mark":{"type":"text","fontSize":22,"color":"#1c1cf0"},"encoding":{"text":{"field":"t","type":"nominal"}}},
      {"data":{"name":"arrows"},"transform":[{"filter":"datum.p==='c'"}],"mark":{"type":"rule","color":"#1c1cf0","strokeWidth":1.3},"encoding":{"x2":{"field":"ang2"},"y2":{"field":"v2"}}},
      {"data":{"name":"arrows"},"transform":[{"filter":"datum.p==='c'"}],"mark":{"type":"point","shape":"triangle","filled":true,"color":"#1c1cf0","size":30,"angle":123,"opacity":1},"encoding":{"x":{"field":"ang2","type":"quantitative"},"y":{"field":"v2","type":"quantitative"}}}
    ]
  },
  {
    "width": 334, "height": 182,
    "encoding": {
      "x": {"field":"ang","type":"quantitative","scale":{"domain":[0,91],"nice":false,"zero":false},"axis":{"values":[15,30,45,60,75],"labels":false,"title":null}},
      "y": {"field":"v","type":"quantitative","scale":{"domain":[-2,3],"nice":false,"zero":false},"axis":{"values":[-1,0,1,2],"labelExpr":"datum.value < 0 ? '-' + abs(datum.value) : '' + datum.value","title":null}}
    },
    "layer": [
      {"data":{"name":"curves"},"transform":[{"filter":"datum.p==='g'"}],"mark":{"type":"line","strokeWidth":1.6},"encoding":{"color":{"field":"pa","type":"nominal","scale":{"domain":["PA:0°-90°","PA:90°-180°"],"range":["#1c1cf0","#ff1c1c"]}}}},
      {"data":{"name":"curves"},"transform":[{"filter":"datum.p==='g'"}],"mark":{"type":"point","filled":true,"opacity":1},"encoding":{"color":{"field":"pa","type":"nominal","scale":{"domain":["PA:0°-90°","PA:90°-180°"],"range":["#1c1cf0","#ff1c1c"]}},"shape":{"field":"pa","type":"nominal","scale":{"domain":["PA:0°-90°","PA:90°-180°"],"range":["circle","diamond"]},"legend":null},"size":{"field":"pa","type":"ordinal","scale":{"domain":["PA:0°-90°","PA:90°-180°"],"range":[26,64]},"legend":null}}},
      {"data":{"name":"counts"},"transform":[{"filter":"datum.p==='g'"}],"mark":{"type":"text","fontSize":11,"color":"#333333"},"encoding":{"text":{"field":"t","type":"nominal"}}},
      {"data":{"name":"notes"},"transform":[{"filter":"datum.p==='g' && datum.role==='tag'"}],"mark":{"type":"text","fontSize":27},"encoding":{"text":{"field":"t","type":"nominal"}}},
      {"data":{"name":"notes"},"transform":[{"filter":"datum.p==='g' && datum.role==='reg'"}],"mark":{"type":"text","fontSize":21,"fontWeight":"bold"},"encoding":{"text":{"field":"t","type":"nominal"}}},
      {"data":{"name":"notes"},"transform":[{"filter":"datum.p==='g' && datum.role==='info'"}],"mark":{"type":"text","fontSize":22},"encoding":{"text":{"field":"t","type":"nominal"}}},
      {"data":{"name":"notes"},"transform":[{"filter":"datum.p==='g' && datum.role==='phi'"}],"mark":{"type":"text","fontSize":21,"align":"left"},"encoding":{"text":{"field":"t","type":"nominal"}}},
      {"data":{"name":"notes"},"transform":[{"filter":"datum.p==='g' && datum.role==='ena'"}],"mark":{"type":"text","fontSize":22,"color":"#1c1cf0"},"encoding":{"text":{"field":"t","type":"nominal"}}},
      {"data":{"name":"arrows"},"transform":[{"filter":"datum.p==='g'"}],"mark":{"type":"rule","color":"#1c1cf0","strokeWidth":1.3},"encoding":{"x2":{"field":"ang2"},"y2":{"field":"v2"}}},
      {"data":{"name":"arrows"},"transform":[{"filter":"datum.p==='g'"}],"mark":{"type":"point","shape":"triangle","filled":true,"color":"#1c1cf0","size":30,"angle":120,"opacity":1},"encoding":{"x":{"field":"ang2","type":"quantitative"},"y":{"field":"v2","type":"quantitative"}}}
    ]
  },
  {
    "width": 335, "height": 186,
    "encoding": {
      "x": {"field":"ang","type":"quantitative","scale":{"domain":[0,90],"nice":false,"zero":false},"axis":{"values":[0,15,30,45,60,75,90],"labelExpr":"datum.value % 30 === 0 ? datum.label : ''","title":"Pitch Angle (°)","titleFontSize":21,"titleX":143,"titleY":41,"titleAlign":"center","titleBaseline":"middle"}},
      "y": {"field":"v","type":"quantitative","scale":{"domain":[0,3],"nice":false,"zero":false},"axis":{"values":[1,2,3],"title":null}}
    },
    "layer": [
      {"data":{"name":"curves"},"transform":[{"filter":"datum.p==='d'"}],"mark":{"type":"line","strokeWidth":1.6},"encoding":{"color":{"field":"pa","type":"nominal","scale":{"domain":["PA:0°-90°","PA:90°-180°"],"range":["#1c1cf0","#ff1c1c"]}}}},
      {"data":{"name":"curves"},"transform":[{"filter":"datum.p==='d'"}],"mark":{"type":"point","filled":true,"opacity":1},"encoding":{"color":{"field":"pa","type":"nominal","scale":{"domain":["PA:0°-90°","PA:90°-180°"],"range":["#1c1cf0","#ff1c1c"]}},"shape":{"field":"pa","type":"nominal","scale":{"domain":["PA:0°-90°","PA:90°-180°"],"range":["circle","diamond"]},"legend":null},"size":{"field":"pa","type":"ordinal","scale":{"domain":["PA:0°-90°","PA:90°-180°"],"range":[26,64]},"legend":null}}},
      {"data":{"name":"counts"},"transform":[{"filter":"datum.p==='d'"}],"mark":{"type":"text","fontSize":11,"color":"#333333"},"encoding":{"text":{"field":"t","type":"nominal"}}},
      {"data":{"name":"notes"},"transform":[{"filter":"datum.p==='d' && datum.role==='tag'"}],"mark":{"type":"text","fontSize":27},"encoding":{"text":{"field":"t","type":"nominal"}}},
      {"data":{"name":"notes"},"transform":[{"filter":"datum.p==='d' && datum.role==='reg'"}],"mark":{"type":"text","fontSize":21,"fontWeight":"bold"},"encoding":{"text":{"field":"t","type":"nominal"}}},
      {"data":{"name":"notes"},"transform":[{"filter":"datum.p==='d' && datum.role==='info'"}],"mark":{"type":"text","fontSize":22},"encoding":{"text":{"field":"t","type":"nominal"}}},
      {"data":{"name":"notes"},"transform":[{"filter":"datum.p==='d' && datum.role==='phi'"}],"mark":{"type":"text","fontSize":21,"align":"left"},"encoding":{"text":{"field":"t","type":"nominal"}}},
      {"data":{"name":"frames"},"transform":[{"filter":"datum.p==='d'"}],"mark":{"type":"rule","color":"#1c1cf0","strokeWidth":2,"clip":false},"encoding":{"x2":{"field":"ang2"},"y2":{"field":"v2"}}}
    ]
  },
  {
    "width": 334, "height": 186,
    "encoding": {
      "x": {"field":"ang","type":"quantitative","scale":{"domain":[0,91],"nice":false,"zero":false},"axis":{"values":[0,15,30,45,60,75,90],"labelExpr":"datum.value % 30 === 0 ? datum.label : ''","title":"Pitch Angle (°)","titleFontSize":21,"titleX":135,"titleY":41,"titleAlign":"center","titleBaseline":"middle"}},
      "y": {"field":"v","type":"quantitative","scale":{"domain":[-1,3],"nice":false,"zero":false},"axis":{"values":[0,1,2],"title":null}}
    },
    "layer": [
      {"data":{"name":"curves"},"transform":[{"filter":"datum.p==='h'"}],"mark":{"type":"line","strokeWidth":1.6},"encoding":{"color":{"field":"pa","type":"nominal","scale":{"domain":["PA:0°-90°","PA:90°-180°"],"range":["#1c1cf0","#ff1c1c"]}}}},
      {"data":{"name":"curves"},"transform":[{"filter":"datum.p==='h'"}],"mark":{"type":"point","filled":true,"opacity":1},"encoding":{"color":{"field":"pa","type":"nominal","scale":{"domain":["PA:0°-90°","PA:90°-180°"],"range":["#1c1cf0","#ff1c1c"]}},"shape":{"field":"pa","type":"nominal","scale":{"domain":["PA:0°-90°","PA:90°-180°"],"range":["circle","diamond"]},"legend":null},"size":{"field":"pa","type":"ordinal","scale":{"domain":["PA:0°-90°","PA:90°-180°"],"range":[26,64]},"legend":null}}},
      {"data":{"name":"counts"},"transform":[{"filter":"datum.p==='h'"}],"mark":{"type":"text","fontSize":11,"color":"#333333"},"encoding":{"text":{"field":"t","type":"nominal"}}},
      {"data":{"name":"notes"},"transform":[{"filter":"datum.p==='h' && datum.role==='tag'"}],"mark":{"type":"text","fontSize":27},"encoding":{"text":{"field":"t","type":"nominal"}}},
      {"data":{"name":"notes"},"transform":[{"filter":"datum.p==='h' && datum.role==='reg'"}],"mark":{"type":"text","fontSize":21,"fontWeight":"bold"},"encoding":{"text":{"field":"t","type":"nominal"}}},
      {"data":{"name":"notes"},"transform":[{"filter":"datum.p==='h' && datum.role==='info'"}],"mark":{"type":"text","fontSize":22},"encoding":{"text":{"field":"t","type":"nominal"}}},
      {"data":{"name":"notes"},"transform":[{"filter":"datum.p==='h' && datum.role==='phi'"}],"mark":{"type":"text","fontSize":21,"align":"left"},"encoding":{"text":{"field":"t","type":"nominal"}}},
      {"data":{"name":"notes"},"transform":[{"filter":"datum.p==='h' && datum.role==='ena'"}],"mark":{"type":"text","fontSize":22,"color":"#1c1cf0"},"encoding":{"text":{"field":"t","type":"nominal"}}},
      {"data":{"name":"arrows"},"transform":[{"filter":"datum.p==='h'"}],"mark":{"type":"rule","color":"#1c1cf0","strokeWidth":1.3},"encoding":{"x2":{"field":"ang2"},"y2":{"field":"v2"}}},
      {"data":{"name":"arrows"},"transform":[{"filter":"datum.p==='h'"}],"mark":{"type":"point","shape":"triangle","filled":true,"color":"#1c1cf0","size":30,"angle":325,"opacity":1},"encoding":{"x":{"field":"ang2","type":"quantitative"},"y":{"field":"v2","type":"quantitative"}}},
      {"data":{"name":"frames"},"transform":[{"filter":"datum.p==='h'"}],"mark":{"type":"rule","color":"#1f9a3a","strokeWidth":2,"clip":false},"encoding":{"x2":{"field":"ang2"},"y2":{"field":"v2"}}}
    ]
  }
]
}
